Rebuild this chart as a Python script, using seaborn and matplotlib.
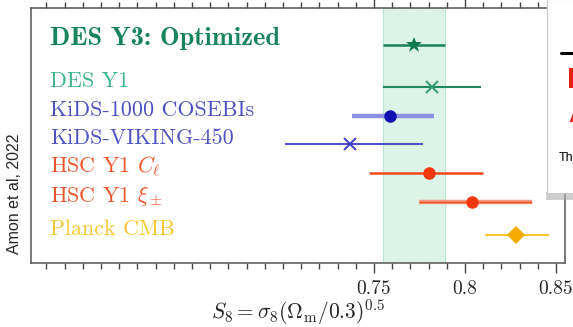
import matplotlib
matplotlib.use("Agg")
import matplotlib.pyplot as plt
import matplotlib.transforms as mtransforms
from matplotlib.ticker import MultipleLocator
from matplotlib.patches import Rectangle
import seaborn as sns

# S8 constraints (Amon et al 2022)
surveys = ["DES Y3: Optimized", "DES Y1", "KiDS-1000 COSEBIs", "KiDS-VIKING-450",
           r"HSC Y1 $C_\ell$", r"HSC Y1 $\xi_\pm$", "Planck CMB"]
s8 = [0.772, 0.782, 0.759, 0.737, 0.780, 0.804, 0.828]
s8_lo = [0.755, 0.755, 0.738, 0.701, 0.747, 0.775, 0.811]
s8_hi = [0.789, 0.809, 0.783, 0.777, 0.810, 0.837, 0.846]
band = [0.755, 0.789]
major_ticks = [0.75, 0.8, 0.85]
major_labels = ["0.75", "0.8", "0.85"]

# layout / style per row
rows = [0, 1.45, 2.45, 3.41, 4.41, 5.41, 6.55]
text_col = ["#17845c", "#3cb487", "#4d52c2", "#4d52c2", "#f0562c", "#f0562c", "#f5c832"]
mk = ["*", "x", "o", "x", "o", "o", "D"]
mk_col = ["#137a50", "#2e9a6e", "#1111b0", "#3c40c0", "#f2380e", "#f2380e", "#f5aa00"]
mk_size = [12, 9, 9, 9, 9, 9, 9.5]
bar_col = ["#1b8058", "#1e8a5e", "#8c90e2", "#4c52c8", "#f2461c", "#f49a80", "#f5c832"]
bar_lw = [1.8, 1.5, 3.2, 1.5, 1.8, 3.2, 1.6]

sns.set_theme(style="ticks")
plt.rcParams["font.family"] = "cmr10"
plt.rcParams["mathtext.fontset"] = "cm"
plt.rcParams["axes.formatter.use_mathtext"] = True

fig = plt.figure(figsize=(5.73, 3.27), dpi=100)
ax = fig.add_axes([31 / 573, 64 / 327, 534 / 573, 255 / 327])

ax.axvspan(band[0], band[1], color="#dcf4e8", ec="#b8e6cf", lw=0.8, zorder=0)

for i in range(len(surveys)):
    ax.hlines(rows[i], s8_lo[i], s8_hi[i], color=bar_col[i], lw=bar_lw[i], zorder=2)
    if i == 5:
        ax.hlines(rows[i], s8_lo[i], s8_hi[i], color="#f2501e", lw=1.0, zorder=2)
    if mk[i] == "x":
        ax.plot(s8[i], rows[i], marker="x", ms=mk_size[i], mew=1.4,
                color=mk_col[i], ls="none", zorder=3)
    else:
        ax.plot(s8[i], rows[i], marker=mk[i], ms=mk_size[i], mew=0,
                color=mk_col[i], ls="none", zorder=3)

trans = mtransforms.blended_transform_factory(ax.transAxes, ax.transData)
for i, name in enumerate(surveys):
    if i == 0:
        ax.text(0.0356, rows[i], name, transform=trans, color=text_col[i],
                fontsize=19, family="cmb10", va="baseline")
    else:
        ax.text(0.0356, rows[i], name, transform=trans, color=text_col[i],
                fontsize=15.9, va="baseline")

ax.set_xlim(0.5615, 0.855)
ax.set_ylim(7.52, -1.28)
ax.set_yticks([])
ax.set_xticks(major_ticks)
ax.set_xticklabels(major_labels, fontsize=14)
ax.xaxis.set_minor_locator(MultipleLocator(0.01))
ax.tick_params(axis="x", which="both", top=True, bottom=True, direction="out",
               color="#444444", width=1.0, pad=5)
ax.tick_params(axis="x", which="major", length=7)
ax.tick_params(axis="x", which="minor", length=4)
for sp in ax.spines.values():
    sp.set_color("#555555")
    sp.set_linewidth(1.1)

ax.set_xlabel(r"$S_8 = \sigma_8(\Omega_{\rm m}/0.3)^{0.5}$", fontsize=15.5, labelpad=0)

fig.text(15 / 573, 1 - 194 / 327, "Amon et al, 2022", rotation=90,
         family="Liberation Sans", fontsize=11.5, ha="center", va="center")

# overlapping slide element on the right
fig.patches.append(Rectangle((546 / 573, 1 - 200 / 327), 30 / 573, 8 / 327,
                             transform=fig.transFigure, fc="#b0b0b0", ec="none",
                             alpha=0.6, zorder=9))
fig.patches.append(Rectangle((547 / 573, 1 - 193 / 327), 30 / 573, 194 / 327,
                             transform=fig.transFigure, fc="white", ec="#c8c8c8",
                             lw=0.8, zorder=10))
fig.lines.append(plt.Line2D([561 / 573, 1], [1 - 53 / 327] * 2, transform=fig.transFigure,
                            color="black", lw=2.2, zorder=11))
fig.text(567 / 573, 1 - 88 / 327, "D", color="#e8200c", fontsize=21, weight="bold",
         family="Liberation Sans", va="baseline", zorder=11)
fig.text(568 / 573, 1 - 122 / 327, "A", color="#e8200c", fontsize=21, weight="bold",
         family="Liberation Sans", va="baseline", zorder=11)
fig.text(559 / 573, 1 - 161 / 327, "The", color="black", fontsize=9,
         family="Liberation Sans", va="baseline", zorder=11)

fig.savefig("out.png", dpi=100)
